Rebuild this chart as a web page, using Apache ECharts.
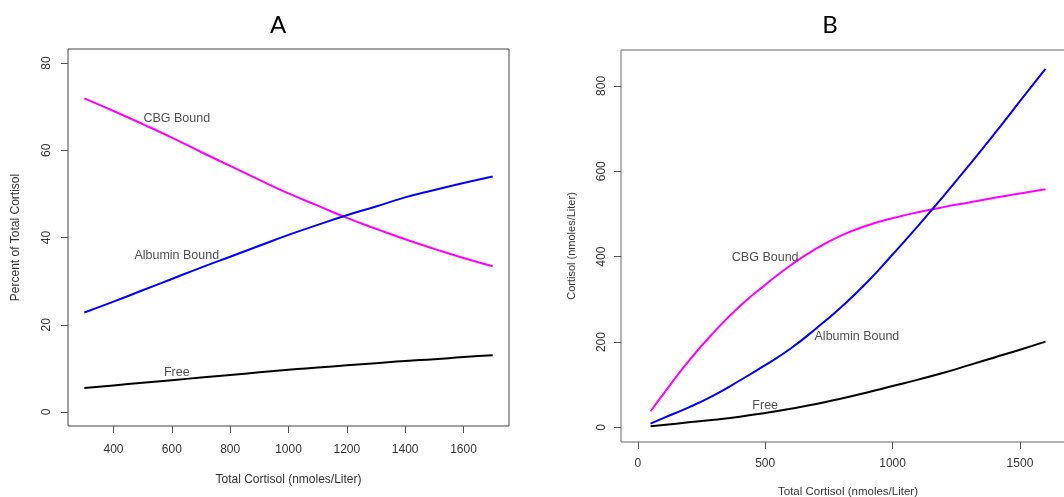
<!DOCTYPE html>
<html>
<head>
<meta charset="utf-8">
<script src="https://cdn.jsdelivr.net/npm/echarts@6/dist/echarts.min.js"></script>
<style>
  html, body { margin: 0; padding: 0; background: #fff; }
  #chart { width: 1064px; height: 497px; }
</style>
</head>
<body>
<div id="chart"></div>
<script>
// Panel A: percentage of total cortisol in each fraction
const totalA = [300, 400, 500, 600, 700, 800, 900, 1000, 1100, 1200, 1300, 1400, 1500, 1600, 1700];
const cbgPct = [71.9, 69.0, 66.0, 62.9, 59.6, 56.4, 53.2, 50.1, 47.3, 44.5, 42.0, 39.6, 37.4, 35.3, 33.4];
const albuminPct = [22.8, 25.3, 27.9, 30.5, 33.1, 35.6, 38.1, 40.6, 42.9, 45.1, 47.1, 49.2, 50.9, 52.5, 54.0];
const freePct = [5.5, 6.1, 6.7, 7.3, 7.9, 8.5, 9.1, 9.7, 10.2, 10.7, 11.2, 11.7, 12.1, 12.6, 13.0];

// Panel B: concentration of each fraction (nmoles/Liter)
const totalB = [50, 100, 200, 300, 400, 500, 600, 700, 800, 900, 1000, 1100, 1200, 1300, 1400, 1500, 1600];
const cbgConc = [38, 78, 156, 224, 284, 334, 380, 419, 450, 473, 490, 504, 516, 527, 538, 548, 558];
const albuminConc = [9, 22, 47, 76, 110, 146, 185, 232, 283, 340, 405, 472, 542, 614, 688, 764, 840];
const freeConc = [3, 6, 12, 18, 25, 34, 44, 55, 68, 82, 97, 112, 128, 146, 164, 182, 201];

// Axis ticks
const ticksAx = [400, 600, 800, 1000, 1200, 1400, 1600];
const ticksAy = [0, 20, 40, 60, 80];
const ticksBx = [0, 500, 1000, 1500];
const ticksBy = [0, 200, 400, 600, 800];

// Curve annotations [x, y, text]
const notesA = [[617, 67.2, 'CBG Bound'], [617, 35.8, 'Albumin Bound'], [617, 9.0, 'Free']];
const notesB = [[500, 398, 'CBG Bound'], [860, 214, 'Albumin Bound'], [500, 51, 'Free']];

const FONT = '"Liberation Sans", Arial, sans-serif';
const pair = (xs, ys) => xs.map((x, i) => [x, ys[i]]);
const plain = v => String(v);

function xAxisDef(idx, min, max, ticks, name, gap, size, margin) {
  return {
    type: 'value', gridIndex: idx, min: min, max: max, position: 'bottom',
    name: name, nameLocation: 'middle', nameGap: gap,
    nameTextStyle: { color: '#333', fontFamily: FONT, fontSize: size },
    axisLine: { show: false, onZero: false },
    axisTick: { show: true, inside: false, length: 7, customValues: ticks, lineStyle: { color: '#555' } },
    axisLabel: { customValues: ticks, formatter: plain, margin: margin, color: '#333', fontFamily: FONT, fontSize: 12 },
    splitLine: { show: false }
  };
}
function yAxisDef(idx, min, max, ticks, name, gap, size, margin) {
  return {
    type: 'value', gridIndex: idx, min: min, max: max, position: 'left',
    name: name, nameLocation: 'middle', nameGap: gap, nameRotate: 90,
    nameTextStyle: { color: '#333', fontFamily: FONT, fontSize: size },
    axisLine: { show: false, onZero: false },
    axisTick: { show: true, inside: false, length: 7, customValues: ticks, lineStyle: { color: '#555' } },
    axisLabel: { customValues: ticks, formatter: plain, rotate: 90, margin: margin, color: '#333', fontFamily: FONT, fontSize: 12 },
    splitLine: { show: false }
  };
}
function curve(xi, data, color) {
  return {
    type: 'line', xAxisIndex: xi, yAxisIndex: xi, data: data,
    smooth: 0.5, showSymbol: false, symbol: 'none',
    lineStyle: { color: color, width: 2 }, z: 3
  };
}
function notes(xi, list) {
  return {
    type: 'scatter', xAxisIndex: xi, yAxisIndex: xi, symbolSize: 1,
    itemStyle: { color: 'rgba(0,0,0,0)' },
    data: list.map(n => ({ value: [n[0], n[1]], name: n[2] })),
    label: { show: true, position: 'inside', formatter: '{b}', color: '#222', fontFamily: FONT, fontSize: 12.5 },
    z: 4
  };
}

const chart = echarts.init(document.getElementById('chart'), null, { renderer: 'canvas' });
chart.setOption({
  animation: false,
  backgroundColor: '#fff',
  title: [
    { text: 'A', left: 273, top: 8, textAlign: 'center',
      textStyle: { fontFamily: 'Lato, "Open Sans", sans-serif', fontWeight: 'normal', fontSize: 24, color: '#000' } },
    { text: 'B', left: 825, top: 8, textAlign: 'center',
      textStyle: { fontFamily: 'Lato, "Open Sans", sans-serif', fontWeight: 'normal', fontSize: 24, color: '#000' } }
  ],
  grid: [
    { left: 68, top: 49, width: 441, height: 377, outerBoundsMode: 'none', containLabel: false,
      show: true, borderColor: '#444', borderWidth: 1, backgroundColor: 'transparent' },
    { left: 621, top: 50, width: 454, height: 392, outerBoundsMode: 'none', containLabel: false,
      show: true, borderColor: '#666', borderWidth: 1, backgroundColor: 'transparent' }
  ],
  xAxis: [
    xAxisDef(0, 244, 1756, ticksAx, 'Total Cortisol (nmoles/Liter)', 48, 12, 18),
    xAxisDef(1, -66, 1716, ticksBx, 'Total Cortisol (nmoles/Liter)', 44, 11.5, 16)
  ],
  yAxis: [
    yAxisDef(0, -3.2, 83.2, ticksAy, 'Percent of Total Cortisol', 46, 12, 15),
    yAxisDef(1, -34, 884, ticksBy, 'Cortisol (nmoles/Liter)', 44, 11, 13)
  ],
  series: [
    curve(0, pair(totalA, cbgPct), '#ff00ff'),
    curve(0, pair(totalA, albuminPct), '#0000ff'),
    curve(0, pair(totalA, freePct), '#000000'),
    notes(0, notesA),
    curve(1, pair(totalB, cbgConc), '#ff00ff'),
    curve(1, pair(totalB, albuminConc), '#0000ff'),
    curve(1, pair(totalB, freeConc), '#000000'),
    notes(1, notesB)
  ]
});
</script>
</body>
</html>
